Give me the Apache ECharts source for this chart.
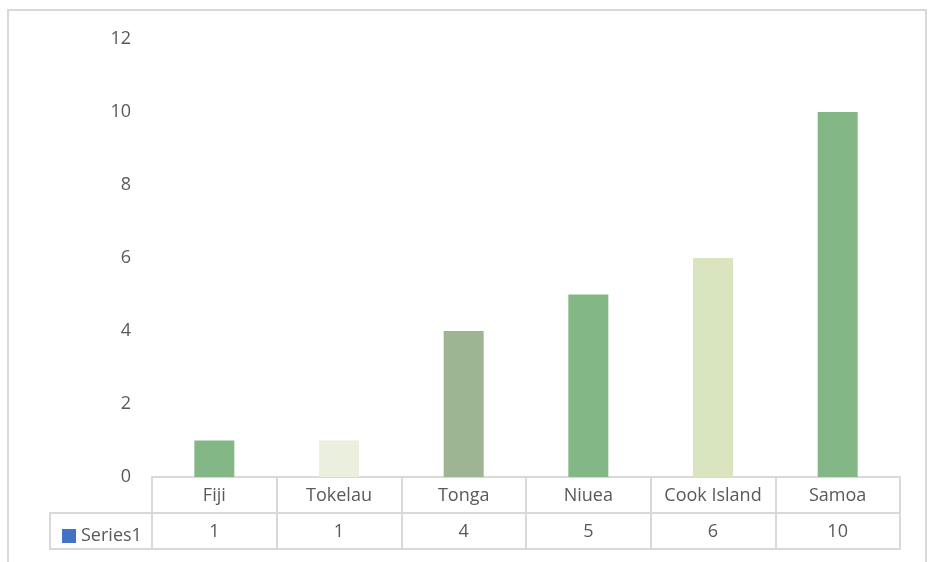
<!DOCTYPE html>
<html><head><meta charset="utf-8">
<script src="https://cdn.jsdelivr.net/npm/echarts@6/dist/echarts.min.js"></script>
<style>html,body{margin:0;padding:0;background:#fff}#c{width:930px;height:562px}</style>
</head><body><div id="c"></div>
<script>
const categories = ['Fiji', 'Tokelau', 'Tonga', 'Niuea', 'Cook Island', 'Samoa'];
const values = [1, 1, 4, 5, 6, 10];
const barColors = ['#84B786', '#EBEFDE', '#9DB593', '#84B786', '#D8E5BF', '#84B786'];
const seriesName = 'Series1';
const yTicks = [0, 2, 4, 6, 8, 10, 12];

const FONT = '"Open Sans", sans-serif';
const TXT = '#595959';
const LINE = '#D9D9D9';
const chart = echarts.init(document.getElementById('c'), null, {renderer: 'canvas'});
const gridL = 152, gridR = 30, gridT = 39, gridB = 85;
const rowH = 36;
chart.setOption({
  animation: false,
  backgroundColor: '#fff',
  grid: {left: gridL, right: gridR, top: gridT, bottom: gridB},
  legend: {
    data: [{name: seriesName, itemStyle: {color: '#4472C4'}}],
    left: 57, top: 522, itemWidth: 14, itemHeight: 14, itemGap: 5,
    textStyle: {fontFamily: FONT, fontSize: 18, color: TXT},
    icon: 'rect', selectedMode: false
  },
  xAxis: [{
    type: 'category', data: categories, position: 'bottom',
    axisLine: {lineStyle: {color: LINE, width: 2}},
    axisTick: {show: true, interval: 0, length: rowH * 2, lineStyle: {color: LINE, width: 2}},
    axisLabel: {interval: 0, fontFamily: FONT, fontSize: 18, color: TXT, margin: 10}
  }, {
    type: 'category', data: categories, position: 'bottom', offset: rowH,
    axisLine: {lineStyle: {color: LINE, width: 2}},
    axisTick: {show: false},
    axisLabel: {interval: 0, fontFamily: FONT, fontSize: 18, color: TXT, margin: 10,
      formatter: (v, i) => String(values[i])}
  }, {
    type: 'category', data: categories, position: 'bottom', offset: rowH * 2,
    axisLine: {lineStyle: {color: LINE, width: 2}},
    axisTick: {show: false}, axisLabel: {show: false}
  }],
  yAxis: {
    type: 'value', min: 0, max: 12, interval: 2,
    axisLine: {show: false}, axisTick: {show: false}, splitLine: {show: false},
    axisLabel: {fontFamily: FONT, fontSize: 18, color: TXT, margin: 21,
      formatter: v => yTicks.includes(v) ? String(v) : ''}
  },
  series: [{
    name: seriesName, type: 'bar', data: values, barWidth: 40,
    itemStyle: {color: p => barColors[p.dataIndex]}
  }],
  graphic: [
    {type: 'rect', shape: {x: 8, y: 10, width: 918, height: 560}, silent: true,
      style: {fill: 'none', stroke: LINE, lineWidth: 2}},
    {type: 'polyline', shape: {points: [[gridL, 477 + rowH], [50, 477 + rowH], [50, 477 + rowH * 2], [gridL, 477 + rowH * 2]]},
      silent: true, style: {fill: 'none', stroke: LINE, lineWidth: 2}}
  ]
});
</script></body></html>
